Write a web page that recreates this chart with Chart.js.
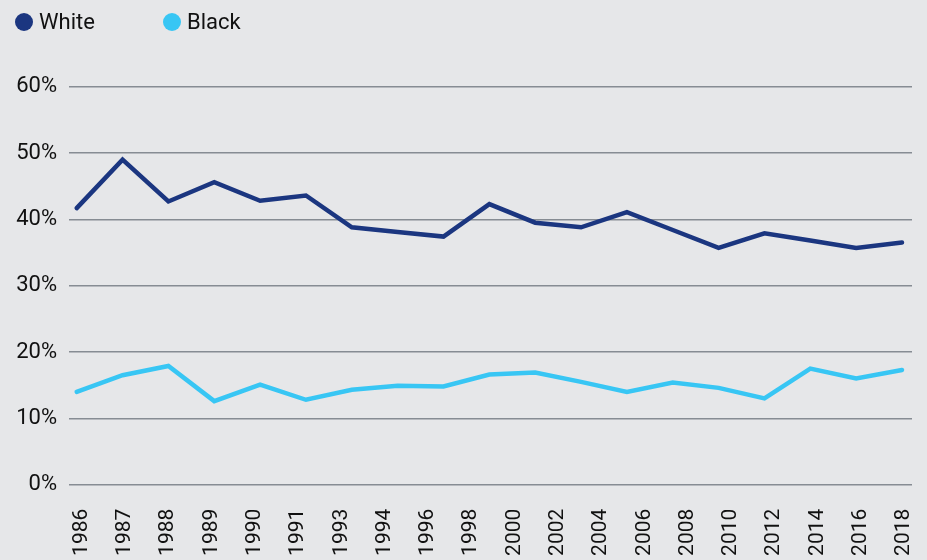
<!DOCTYPE html>
<html>
<head>
<meta charset="utf-8">
<script src="https://cdn.jsdelivr.net/npm/chart.js@4/dist/chart.umd.min.js"></script>
<style>
  html, body { margin: 0; padding: 0; background: #e6e7e9; overflow: hidden; }
  #wrap { position: relative; width: 927px; height: 560px; background: #e6e7e9; }
  #legend { position: absolute; left: 0; top: 0; width: 927px; height: 44px; }
  #legend ul { list-style: none; margin: 0; padding: 0; }
  #legend li { position: absolute; top: 9px; height: 25px; line-height: 25px; display: flex; align-items: center;
               font-family: Roboto, sans-serif; font-size: 22px; color: #111; white-space: nowrap; }
  #legend .dot { width: 18px; height: 18px; border-radius: 50%; margin-right: 6px; flex: none; }
  canvas { position: absolute; left: 0; top: 0; }
</style>
</head>
<body>
<div id="wrap">
  <canvas id="c" width="927" height="560"></canvas>
  <div id="legend"></div>
</div>
<script>
// ---- data ----
const yearLabels = ['1986','1987','1988','1989','1990','1991','1993','1994','1996','1998',
                    '2000','2002','2004','2006','2008','2010','2012','2014','2016','2018'];
const seriesNames = ['White', 'Black'];
const whiteShare = [41.7, 49.0, 42.7, 45.6, 42.8, 43.6, 38.8, 38.1, 37.4, 42.3,
                    39.5, 38.8, 41.1, 38.4, 35.7, 37.9, 36.8, 35.7, 36.5];
const blackShare = [14.0, 16.5, 17.9, 12.6, 15.1, 12.8, 14.3, 14.9, 14.8, 16.6,
                    16.9, 15.5, 14.0, 15.4, 14.6, 13.0, 17.5, 16.0, 17.3];
const yTicks = [0, 10, 20, 30, 40, 50, 60];

// ---- style ----
const seriesColors = ['#1b3680', '#38c6f4'];
const legendLefts = [15, 163];
const textColor = '#111111';
const gridColor = '#868c93';
const fontFamily = 'Roboto, sans-serif';

const toPoints = arr => arr.map((v, i) => ({ x: i, y: v }));

const htmlLegend = {
  id: 'htmlLegend',
  afterUpdate(chart) {
    const box = document.getElementById('legend');
    box.innerHTML = '';
    const ul = document.createElement('ul');
    const items = chart.options.plugins.legend.labels.generateLabels(chart);
    items.forEach((item, i) => {
      const li = document.createElement('li');
      li.style.left = legendLefts[i] + 'px';
      const dot = document.createElement('span');
      dot.className = 'dot';
      dot.style.background = item.strokeStyle;
      const txt = document.createElement('span');
      txt.textContent = item.text;
      li.appendChild(dot);
      li.appendChild(txt);
      ul.appendChild(li);
    });
    box.appendChild(ul);
  }
};

new Chart(document.getElementById('c'), {
  type: 'line',
  data: {
    datasets: [
      { label: seriesNames[0], data: toPoints(whiteShare), borderColor: seriesColors[0], backgroundColor: seriesColors[0],
        borderWidth: 4.5, pointRadius: 0, tension: 0, borderCapStyle: 'round', xAxisID: 'x', yAxisID: 'y' },
      { label: seriesNames[1], data: toPoints(blackShare), borderColor: seriesColors[1], backgroundColor: seriesColors[1],
        borderWidth: 4.5, pointRadius: 0, tension: 0, borderCapStyle: 'round', xAxisID: 'x', yAxisID: 'y' }
    ]
  },
  options: {
    responsive: false,
    animation: false,
    layout: { padding: { top: 86.7, right: 15, left: 0, bottom: 0 } },
    plugins: {
      legend: { display: false },
      tooltip: { enabled: false }
    },
    scales: {
      x: {
        type: 'linear', axis: 'x', display: false,
        min: -0.168, max: 18.218
      },
      xLabels: {
        type: 'linear', axis: 'x', position: 'bottom',
        min: -0.293, max: 19.185,
        afterBuildTicks: s => { s.ticks = yearLabels.map((_, i) => ({ value: i })); },
        afterFit: s => { s.height = 75.3; s.paddingLeft = 0; s.paddingRight = 0; },
        grid: { display: false, drawTicks: false },
        border: { display: false },
        ticks: {
          autoSkip: false, minRotation: 90, maxRotation: 90, padding: 24,
          color: textColor, font: { family: fontFamily, size: 21 },
          callback: (v, i) => yearLabels[i]
        }
      },
      y: {
        type: 'linear', position: 'left', min: 0, max: 60,
        afterBuildTicks: s => { s.ticks = yTicks.map(v => ({ value: v })); },
        afterFit: s => { s.width = 69; s.paddingTop = 0; s.paddingBottom = 0; },
        grid: { color: gridColor, lineWidth: 1.5, drawTicks: false },
        border: { display: false },
        ticks: {
          padding: 12, color: textColor, font: { family: fontFamily, size: 22 },
          callback: v => v + '%'
        }
      }
    }
  },
  plugins: [htmlLegend]
});
</script>
</body>
</html>
